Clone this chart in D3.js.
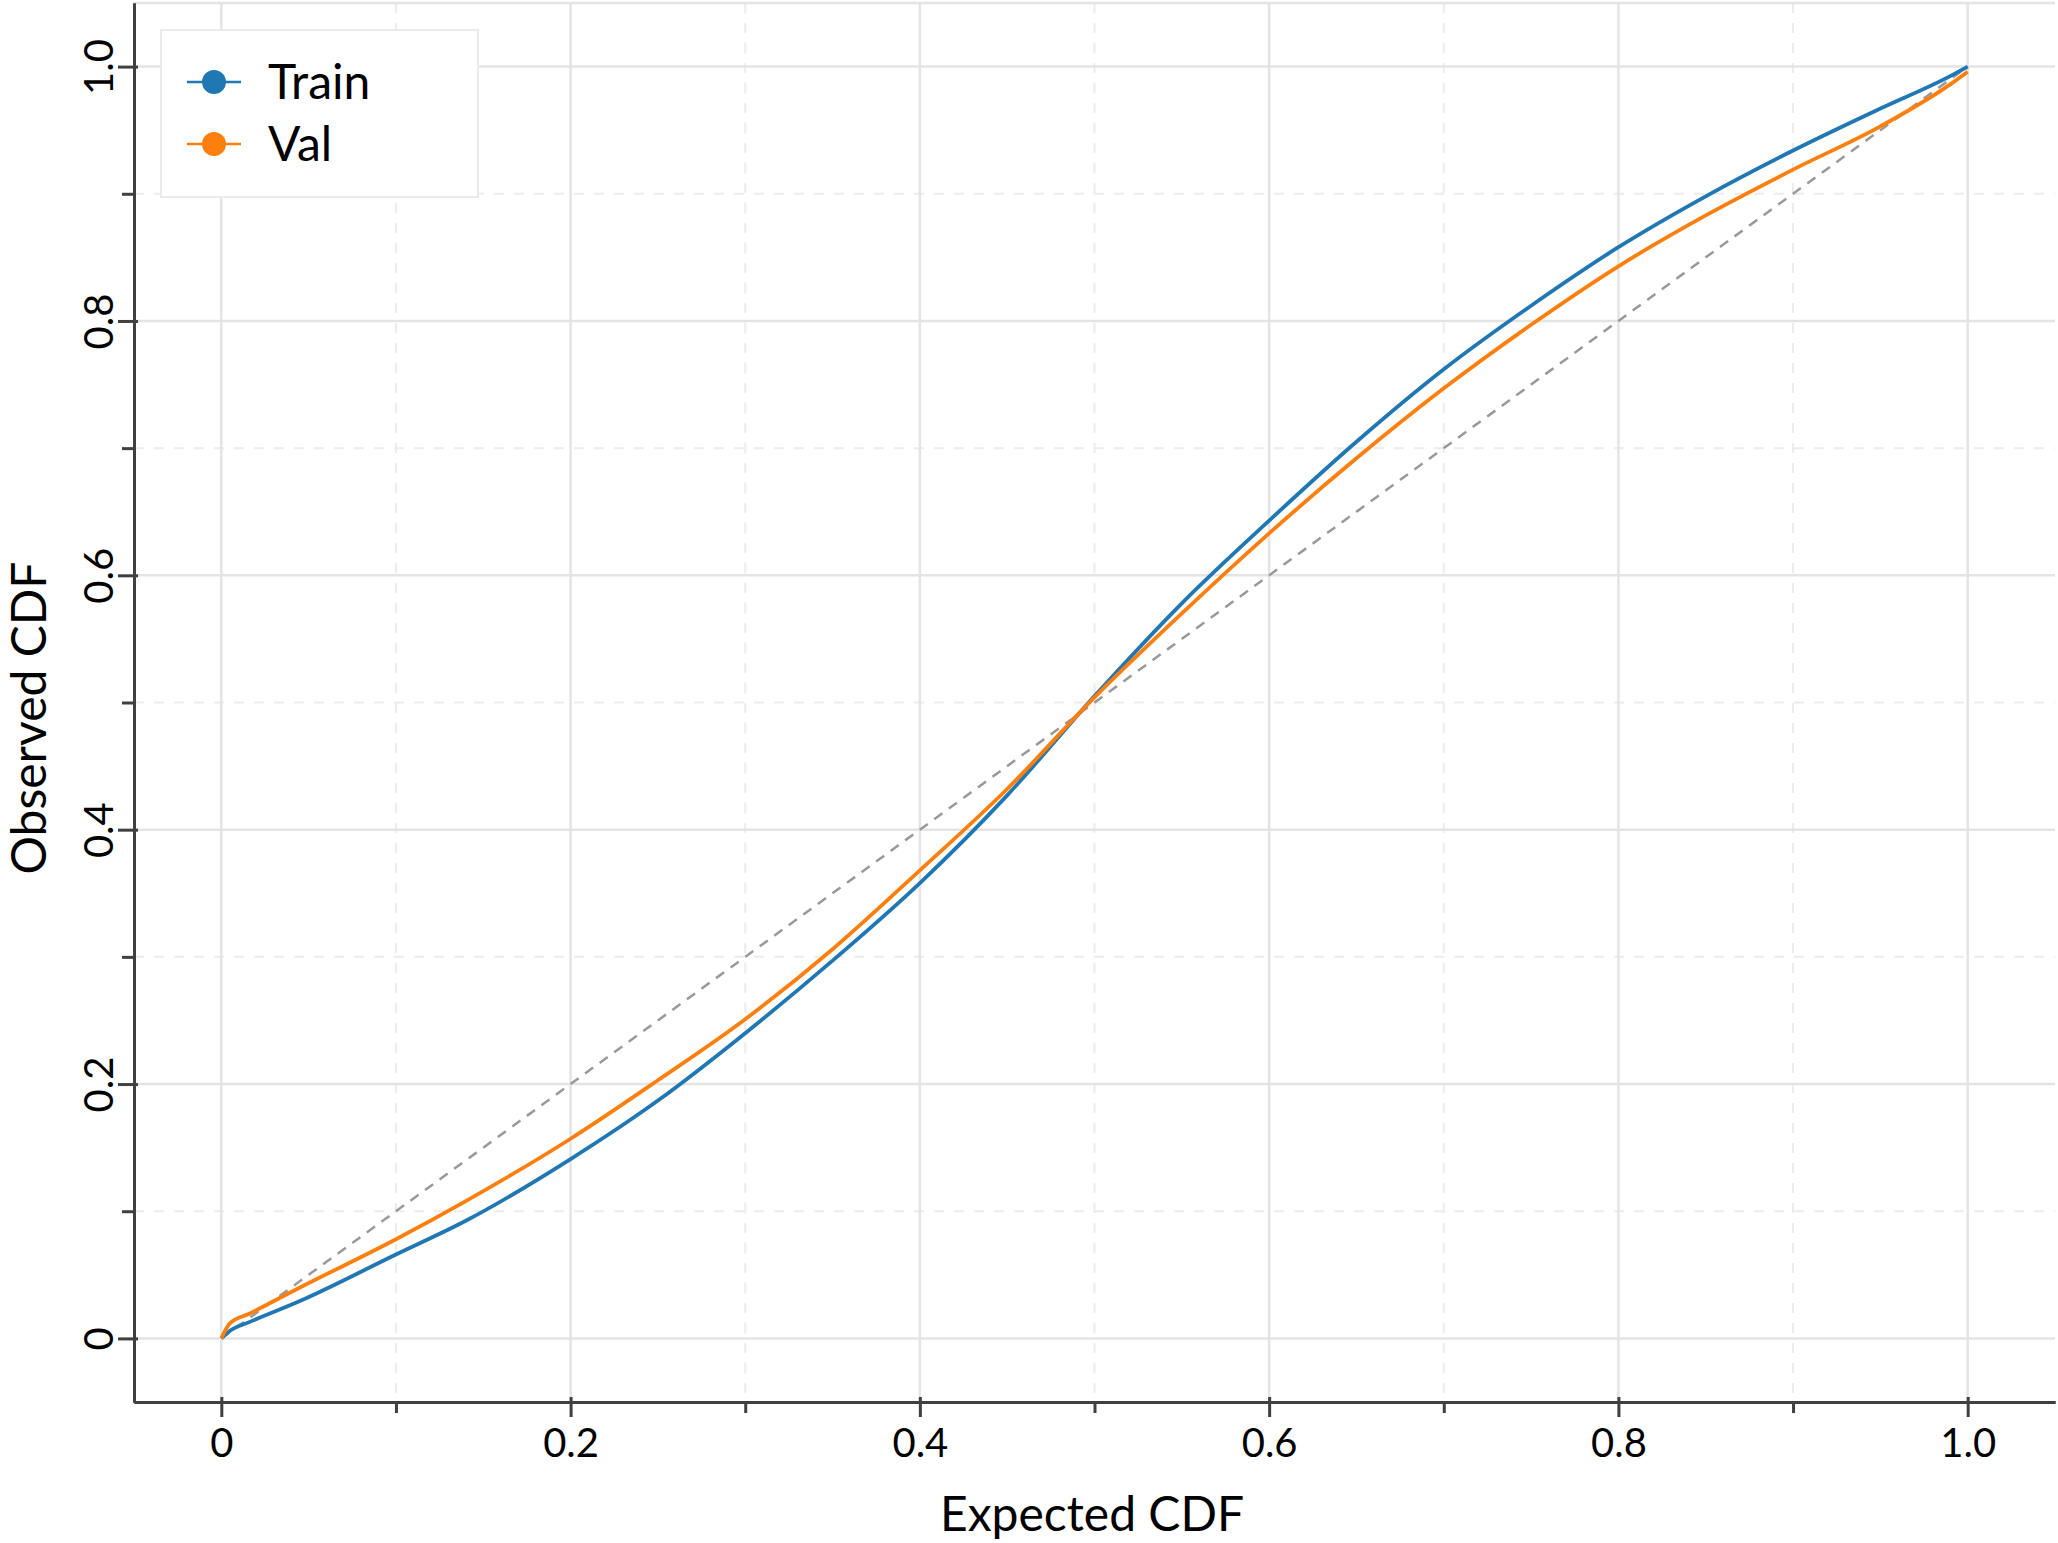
<!DOCTYPE html>
<html>
<head>
<meta charset="utf-8">
<script src="https://cdn.jsdelivr.net/npm/d3@7"></script>
<style>
  html, body { margin: 0; padding: 0; background: #fff; }
  svg { display: block; }
  text { font-family: Lato, "Open Sans", "Noto Sans", sans-serif; fill: #000; }
</style>
</head>
<body>
<svg id="chart" width="2058" height="1543"></svg>
<script>
// ---- data ----
const expected = [0, 0.005, 0.016, 0.045, 0.1, 0.14, 0.2, 0.25, 0.3, 0.35, 0.4, 0.45, 0.5, 0.55, 0.6, 0.65, 0.7, 0.75, 0.8, 0.85, 0.9, 0.95, 0.99, 1.0];
const trainObserved = [0, 0.006, 0.0128, 0.0294, 0.066, 0.0925, 0.141, 0.187, 0.240, 0.297, 0.358, 0.427, 0.505, 0.578, 0.643, 0.705, 0.762, 0.812, 0.858, 0.898, 0.934, 0.967, 0.9925, 1.0];
const valObserved = [0, 0.012, 0.0194, 0.040, 0.078, 0.108, 0.157, 0.203, 0.251, 0.306, 0.368, 0.432, 0.504, 0.570, 0.633, 0.692, 0.747, 0.797, 0.843, 0.883, 0.919, 0.953, 0.986, 0.996];
const seriesNames = ["Train", "Val"];
const seriesColors = ["#1f77b4", "#ff7f0e"];
const majorTicks = [0, 0.2, 0.4, 0.6, 0.8, 1.0];
const majorTickLabels = ["0", "0.2", "0.4", "0.6", "0.8", "1.0"];
const minorTicks = [0.1, 0.3, 0.5, 0.7, 0.9];
const xTitle = "Expected CDF";
const yTitle = "Observed CDF";

(function () {
// ---- layout ----
const svg = d3.select("#chart");
const pLeft = 134, pRight = 2055, pTop = 3, pBottom = 1402;
const x = d3.scaleLinear().domain([-0.05, 1.05]).range([pLeft, pRight]);
const y = d3.scaleLinear().domain([-0.05, 1.05]).range([pBottom, pTop]);

// ---- grid ----
const grid = svg.append("g");
grid.selectAll(".vmin").data(minorTicks).join("line")
  .attr("x1", d => x(d)).attr("x2", d => x(d)).attr("y1", pTop).attr("y2", pBottom)
  .attr("stroke", "#ececec").attr("stroke-width", 2).attr("stroke-dasharray", "10,10");
grid.selectAll(".hmin").data(minorTicks).join("line")
  .attr("y1", d => y(d)).attr("y2", d => y(d)).attr("x1", pLeft).attr("x2", pRight)
  .attr("stroke", "#ececec").attr("stroke-width", 2).attr("stroke-dasharray", "10,10");
grid.selectAll(".vmaj").data(majorTicks).join("line")
  .attr("x1", d => x(d)).attr("x2", d => x(d)).attr("y1", pTop).attr("y2", pBottom)
  .attr("stroke", "#e4e4e4").attr("stroke-width", 2.5);
grid.selectAll(".hmaj").data(majorTicks).join("line")
  .attr("y1", d => y(d)).attr("y2", d => y(d)).attr("x1", pLeft).attr("x2", pRight)
  .attr("stroke", "#e4e4e4").attr("stroke-width", 2.5);
// top frame
svg.append("line").attr("x1", pLeft).attr("x2", pRight).attr("y1", pTop).attr("y2", pTop)
  .attr("stroke", "#e4e4e4").attr("stroke-width", 2.5);

// ---- diagonal reference ----
svg.append("path")
  .attr("d", d3.line().x(d => x(d)).y(d => y(d))([0, 1]))
  .attr("fill", "none").attr("stroke", "#999").attr("stroke-width", 2.5)
  .attr("stroke-dasharray", "10,8");

// ---- curves ----
const line = d3.line().x(d => x(d[0])).y(d => y(d[1])).curve(d3.curveMonotoneX);
[trainObserved, valObserved].forEach((vals, i) => {
  svg.append("path")
    .attr("d", line(expected.map((e, j) => [e, vals[j]])))
    .attr("fill", "none").attr("stroke", seriesColors[i]).attr("stroke-width", 3.8)
    .attr("stroke-linejoin", "round");
});

// ---- axes ----
const axisColor = "#404040";
const xMajor = svg.append("g").attr("transform", `translate(0,${pBottom})`)
  .call(d3.axisBottom(x).tickValues(majorTicks).tickSizeInner(15).tickSizeOuter(0)
    .tickFormat((d, i) => majorTickLabels[i]));
const xMinor = svg.append("g").attr("transform", `translate(0,${pBottom})`)
  .call(d3.axisBottom(x).tickValues(minorTicks).tickSizeInner(11).tickSizeOuter(0).tickFormat(""));
xMajor.selectAll(".tick line").attr("y1", -5);
xMajor.selectAll(".tick text").attr("y", 55).attr("dy", 0).attr("font-size", 40)
  .attr("font-family", "Lato, 'Open Sans', sans-serif").attr("fill", "#000");

const yMajor = svg.append("g").attr("transform", `translate(${pLeft},0)`)
  .call(d3.axisLeft(y).tickValues(majorTicks).tickSizeInner(16).tickSizeOuter(0)
    .tickFormat((d, i) => majorTickLabels[i]));
const yMinor = svg.append("g").attr("transform", `translate(${pLeft},0)`)
  .call(d3.axisLeft(y).tickValues(minorTicks).tickSizeInner(12).tickSizeOuter(0).tickFormat(""));
yMajor.selectAll(".tick line").attr("x1", 4);
yMajor.selectAll(".tick text")
  .attr("x", null).attr("dy", null)
  .attr("text-anchor", "middle")
  .attr("transform", "translate(-21,0) rotate(-90)")
  .attr("font-size", 40)
  .attr("font-family", "Lato, 'Open Sans', sans-serif").attr("fill", "#000");

[xMajor, xMinor, yMajor, yMinor].forEach(g => {
  g.selectAll("path.domain").attr("stroke", axisColor).attr("stroke-width", 3);
  g.selectAll(".tick line").attr("stroke", axisColor).attr("stroke-width", 3);
});

// ---- axis titles ----
svg.append("text").attr("x", 1092).attr("y", 1531).attr("text-anchor", "middle")
  .attr("font-size", 48).text(xTitle);
svg.append("text").attr("transform", "translate(46,718) rotate(-90)").attr("text-anchor", "middle")
  .attr("font-size", 48).text(yTitle);

// ---- legend ----
const legend = svg.append("g");
legend.append("rect").attr("x", 161).attr("y", 30).attr("width", 317).attr("height", 167)
  .attr("fill", "#fff").attr("stroke", "#ebebeb").attr("stroke-width", 2);
const rowY = [82, 144];
seriesNames.forEach((name, i) => {
  const g = legend.append("g").attr("transform", `translate(0,${rowY[i]})`);
  g.append("line").attr("x1", 187).attr("x2", 241).attr("y1", 0).attr("y2", 0)
    .attr("stroke", seriesColors[i]).attr("stroke-width", 2.5);
  g.append("circle").attr("cx", 214).attr("cy", 0).attr("r", 12).attr("fill", seriesColors[i]);
  g.append("text").attr("x", 268).attr("y", 0).attr("dy", "0.35em").attr("font-size", 48).text(name);
});
})();
</script>
</body>
</html>
